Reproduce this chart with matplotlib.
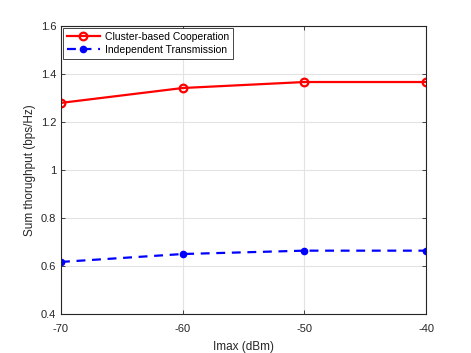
import matplotlib
matplotlib.use("Agg")
import matplotlib.pyplot as plt

plt.rcParams['font.family'] = ['Liberation Sans', 'DejaVu Sans']
plt.rcParams['axes.unicode_minus'] = False

imax = [-70, -60, -50, -40]
cluster = [1.280, 1.342, 1.367, 1.367]
independent = [0.617, 0.650, 0.664, 0.664]
xticks = [-70, -60, -50, -40]
yticks = [0.4, 0.6, 0.8, 1.0, 1.2, 1.4, 1.6]
yticklabels = ['0.4', '0.6', '0.8', '1', '1.2', '1.4', '1.6']

fig = plt.figure(figsize=(4.71, 3.53), dpi=100)
ax = fig.add_axes([0.1295, 0.1105, 0.775, 0.8155])

ax.plot(imax, cluster, '-o', color='red', lw=1.6, ms=5.5, mfc='none', mew=1.6,
        label='Cluster-based Cooperation')
ax.plot(imax, independent, '--o', color='blue', lw=1.6, ms=4.5, mfc='blue', mew=1,
        label='Independent Transmission', dashes=(4, 3))

ax.set_xlim(-70, -40)
ax.set_ylim(0.4, 1.6)
ax.set_xticks(xticks)
ax.set_yticks(yticks)
ax.set_yticklabels(yticklabels)
ax.grid(True, color='#e3e3e3', lw=0.8)
ax.set_axisbelow(True)
ax.tick_params(direction='in', top=True, right=True, labelsize=8, colors='#262626',
               length=3, width=0.6)
ax.tick_params(axis='x', pad=7)
for s in ax.spines.values():
    s.set_color('#262626')
    s.set_linewidth(0.8)
ax.set_xlabel('Imax (dBm)', fontsize=8.5, color='#262626', labelpad=5)
ax.set_ylabel('Sum thorughput (bps/Hz)', fontsize=8.5, color='#262626', labelpad=3)

leg = ax.legend(loc='upper left', fontsize=7.5, fancybox=False, framealpha=1,
                edgecolor='#262626', borderaxespad=0.2, handlelength=3.2,
                borderpad=0.35, labelspacing=0.3, handletextpad=0.5)
leg.get_frame().set_linewidth(0.6)

fig.savefig('out.png', dpi=100)
